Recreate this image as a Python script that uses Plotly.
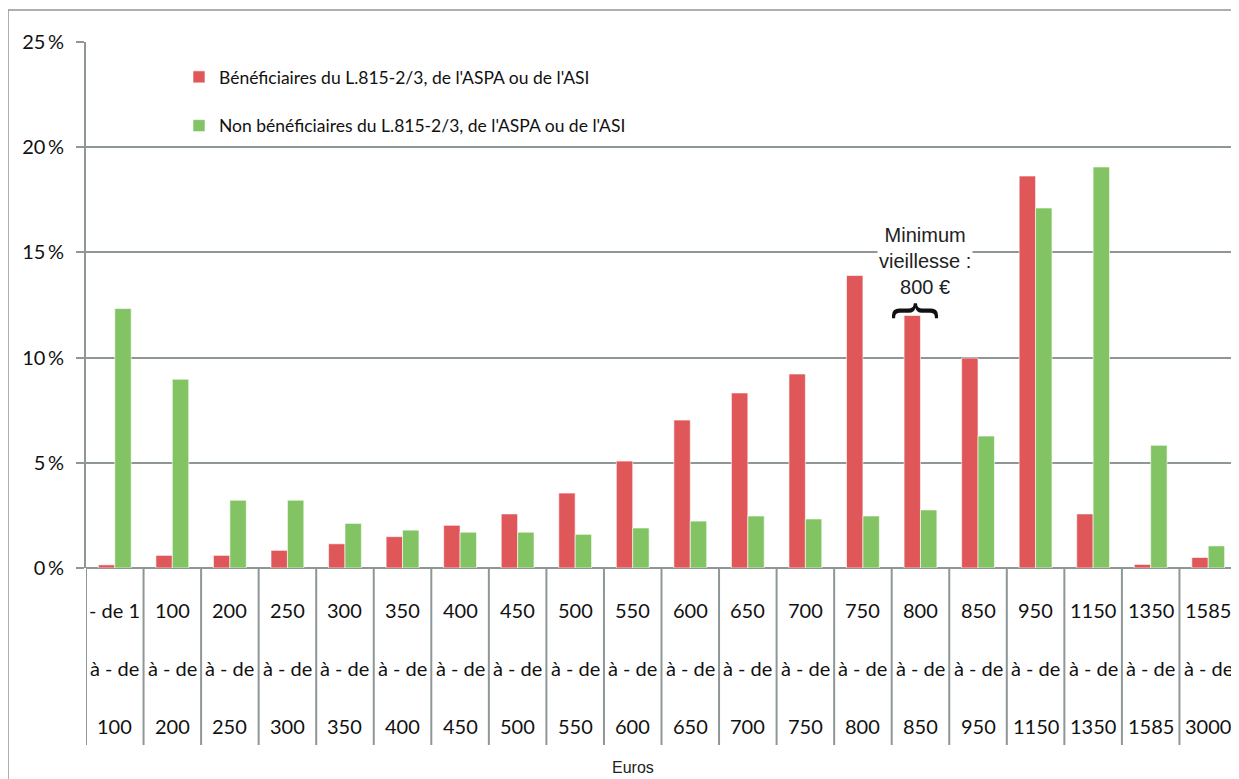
import plotly.graph_objects as go

lows = ["- de 1", "100", "200", "250", "300", "350", "400", "450", "500", "550",
        "600", "650", "700", "750", "800", "850", "950", "1150", "1350", "1585"]
highs = ["100", "200", "250", "300", "350", "400", "450", "500", "550", "600",
         "650", "700", "750", "800", "850", "950", "1150", "1350", "1585", "3000"]
middle = "à - de"
categories = [f"{a} {middle} {b}" for a, b in zip(lows, highs)]

benef = [0.15, 0.6, 0.6, 0.84, 1.15, 1.49, 2.03, 2.57, 3.56, 5.08,
         7.03, 8.32, 9.22, 13.9, 12.0, 9.98, 18.63, 2.57, 0.17, 0.5]
non_benef = [12.33, 8.97, 3.22, 3.22, 2.12, 1.8, 1.7, 1.7, 1.6, 1.9,
             2.23, 2.47, 2.33, 2.47, 2.76, 6.27, 17.11, 19.06, 5.83, 1.05]

y_ticks = [0, 5, 10, 15, 20, 25]
y_ticktext = [f"{v}\u2009%" for v in y_ticks]

name_benef = "Bénéficiaires du L.815-2/3, de l'ASPA ou de l'ASI"
name_non = "Non bénéficiaires du L.815-2/3, de l'ASPA ou de l'ASI"

NARROW = "Lato, Roboto, sans-serif"
ARIAL = "Liberation Sans, Arial, sans-serif"
GRID = "#8E9696"

fig = go.Figure()
fig.add_trace(go.Bar(x=categories, y=benef, name=name_benef, legendgroup="a",
                     marker=dict(color="#E0575A", line=dict(color="rgba(255,255,255,0.6)", width=1))))
fig.add_trace(go.Bar(x=categories, y=non_benef, name=name_non, legendgroup="b",
                     marker=dict(color="#82C363", line=dict(color="rgba(255,255,255,0.6)", width=1))))

OFF = 8  # page body margin
W, H = 1239 - OFF, 779 - OFF
ml, mr, mt, mb = 86 - OFF, 2, 42 - OFF, 211
plot_w = W - ml - mr
plot_h = H - mt - mb

def py(pix):
    """page pixel y -> paper y"""
    return (H - mb - (pix - OFF)) / plot_h

def px(pix):
    """page pixel x -> paper x"""
    return ((pix - OFF) - ml) / plot_w

annotations = []
rows = [(lows, 610), ([middle] * len(categories), 668), (highs, 726)]
for texts, pix in rows:
    for cat, t in zip(categories, texts):
        annotations.append(dict(x=cat, y=py(pix), xref="x", yref="paper", text=t,
                                showarrow=False, xanchor="center", yanchor="middle",
                                font=dict(family=NARROW, size=20, color="#111")))

annotations.append(dict(x=px(633), y=py(778), xref="paper", yref="paper", text="Euros",
                        showarrow=False, yanchor="bottom",
                        font=dict(family=ARIAL, size=16, color="#222")))
annotations.append(dict(x=14.08, y=14.6, xref="x", yref="y",
                        text="Minimum<br>vieillesse :<br>800 €", showarrow=False,
                        bgcolor="white", xanchor="center", yanchor="middle",
                        font=dict(family=ARIAL, size=20, color="#222")))
annotations.append(dict(x=13.97, y=12.2, xref="x", yref="y", text="{", textangle=90,
                        showarrow=False, xanchor="center", yanchor="middle",
                        font=dict(family=ARIAL, size=50, color="#111")))

shapes = []
n = len(categories)
for i in range(n + 1):
    shapes.append(dict(type="line", xref="x", yref="paper", x0=i - 0.5, x1=i - 0.5,
                       y0=0, y1=py(745), line=dict(color=GRID, width=2)))
shapes.append(dict(type="rect", xref="paper", yref="paper",
                   x0=px(8), x1=px(1250), y0=py(790), y1=py(10),
                   line=dict(color=GRID, width=1.5), layer="below"))

fig.update_layout(
    width=W, height=H,
    margin=dict(l=ml, r=mr, t=mt, b=mb),
    paper_bgcolor="white", plot_bgcolor="white",
    barmode="group", bargap=0.43, bargroupgap=0,
    annotations=annotations, shapes=shapes,
    legend=dict(x=px(179), y=py(59), xanchor="left", yanchor="top",
                font=dict(family=NARROW, size=17.5, color="#111"),
                tracegroupgap=23, bgcolor="rgba(0,0,0,0)"),
    xaxis=dict(showticklabels=False, showgrid=False, showline=False, ticks="",
               range=[-0.5, n - 0.5]),
    yaxis=dict(range=[0, 25], tickvals=y_ticks, ticktext=y_ticktext,
               showgrid=True, gridcolor=GRID, gridwidth=2,
               zeroline=True, zerolinecolor=GRID, zerolinewidth=2,
               showline=True, linecolor=GRID, linewidth=2,
               ticks="outside", ticklen=8, tickcolor=GRID, tickwidth=2,
               ticklabelstandoff=8,
               tickfont=dict(family=NARROW, size=20, color="#111")),
)

fig.write_html("out.html")
